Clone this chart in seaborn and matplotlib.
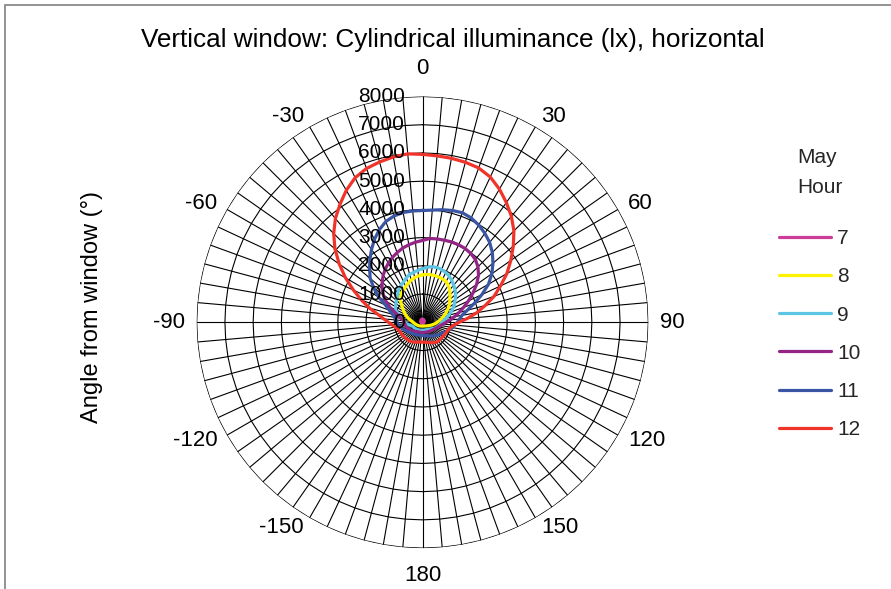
import numpy as np
import pandas as pd
import matplotlib
matplotlib.use("Agg")
import matplotlib.pyplot as plt
import seaborn as sns
from matplotlib.transforms import offset_copy
from matplotlib.patches import Rectangle

# ---- categories (angle from window, degrees) ----
angles = list(range(0, 181, 5)) + list(range(-175, 0, 5))
tick_labels = [str(a) if a % 30 == 0 else "" for a in angles]

hours = ["7", "8", "9", "10", "11", "12"]

# ---- series values (lx), order follows `angles` ----
h7 = [110, 110, 108, 106, 104, 100, 96, 92, 88, 84,
      80, 76, 72, 68, 64, 60, 57, 54, 52, 50,
      48, 46, 45, 44, 43, 42, 42, 41, 41, 40,
      40, 40, 40, 40, 40, 40, 40,
      40, 40, 40, 40, 40, 40, 41, 41, 42, 42,
      43, 44, 45, 46, 48, 50, 52, 54, 57, 60,
      64, 68, 72, 76, 80, 84, 88, 92, 96, 100,
      103, 106, 108, 109, 110]

h8 = [1680, 1700, 1710, 1710, 1705, 1690, 1670, 1600, 1500, 1380,
      1270, 1170, 1070, 960, 860, 760, 670, 590, 520, 460,
      400, 350, 310, 270, 240, 215, 195, 180, 170, 160,
      150, 145, 140, 138, 136, 135, 135,
      135, 136, 138, 140, 145, 150, 157, 165, 175, 185,
      195, 205, 220, 235, 255, 275, 300, 330, 370, 430,
      510, 590, 670, 760, 860, 970, 1110, 1210, 1290, 1340,
      1400, 1480, 1550, 1610, 1650]

h9 = [1900, 1960, 2000, 2010, 1990, 1950, 1890, 1810, 1720, 1630,
      1530, 1420, 1310, 1200, 1080, 960, 850, 760, 690, 650,
      620, 580, 530, 480, 440, 400, 370, 345, 325, 310,
      300, 292, 288, 285, 283, 282, 282,
      283, 285, 288, 292, 298, 305, 312, 320, 328, 336,
      345, 355, 365, 390, 430, 490, 560, 630, 680, 740,
      830, 940, 1050, 1110, 1150, 1200, 1260, 1360, 1460, 1520,
      1580, 1680, 1760, 1800, 1850]

h10 = [2900, 2980, 3000, 3010, 3030, 3030, 3020, 2980, 2910, 2780,
       2590, 2340, 2060, 1800, 1550, 1340, 1150, 980, 840, 730,
       650, 590, 545, 510, 480, 455, 435, 420, 405, 395,
       385, 375, 370, 365, 362, 360, 360,
       360, 362, 364, 366, 370, 380, 395, 415, 440, 465,
       495, 525, 555, 580, 600, 615, 625, 640, 680, 760,
       880, 1050, 1280, 1500, 1700, 1870, 2020, 2170, 2300, 2420,
       2530, 2630, 2720, 2790, 2850]

h11 = [3960, 3990, 4050, 4100, 4130, 4080, 3980, 3850, 3700, 3500,
       3260, 3000, 2700, 2320, 1950, 1640, 1420, 1320, 1230, 1150,
       1080, 990, 910, 850, 790, 740, 700, 660, 620, 590,
       560, 530, 505, 490, 480, 475, 470,
       470, 470, 472, 476, 485, 495, 510, 525, 545, 570,
       600, 640, 680, 720, 770, 820, 870, 900, 950, 1000,
       1100, 1250, 1450, 1800, 2100, 2420, 2650, 2900, 3150, 3400,
       3620, 3800, 3900, 3950, 3960]

h12 = [5950, 5920, 5900, 5870, 5820, 5680, 5450, 5180, 4900, 4580,
       4200, 3820, 3450, 3050, 2700, 2300, 1950, 1600, 1300, 1120,
       1020, 960, 930, 910, 890, 880, 870, 870, 870, 860,
       830, 800, 770, 740, 720, 710, 700,
       700, 710, 730, 750, 770, 790, 800, 810, 820, 830,
       840, 850, 860, 880, 920, 980, 1080, 1200, 1380, 1600,
       1950, 2300, 2700, 3150, 3600, 4050, 4450, 4800, 5100, 5400,
       5650, 5800, 5880, 5950, 5990]

series = [h7, h8, h9, h10, h11, h12]
radial_levels = [0, 1000, 2000, 3000, 4000, 5000, 6000, 7000, 8000]

palette = {"7": "#CC3D9A", "8": "#FFF200", "9": "#5BC5E3",
           "10": "#942486", "11": "#3A55A4", "12": "#F0342A"}

# ---- style ----
sns.set_theme(style="white")
plt.rcParams["font.family"] = ["Liberation Sans", "DejaVu Sans"]
FS = 15
FS_TICK = 16

fig = plt.figure(figsize=(8.91, 5.89), dpi=100)
W, H = 891.0, 589.0
cx, cy, R = 422.5, 322.3, 225.8
ax = fig.add_axes([(cx - R) / W, (H - cy - R) / H, 2 * R / W, 2 * R / H],
                  projection="polar")
ax.set_theta_zero_location("N")
ax.set_theta_direction(-1)

n = len(angles)
theta = np.arange(n) * 2 * np.pi / n
theta_closed = np.append(theta, 2 * np.pi)

rows = []
for h, vals in zip(hours, series):
    for t, v in zip(theta_closed, list(vals) + [vals[0]]):
        rows.append((h, t, v))
df = pd.DataFrame(rows, columns=["Hour", "theta", "lux"])

# polygon grid (Excel radar style)
for lvl in radial_levels[1:]:
    ax.plot(theta_closed, [lvl] * (n + 1), color="black", lw=0.8, zorder=1)

sns.lineplot(data=df, x="theta", y="lux", hue="Hour", hue_order=hours,
             palette=palette, sort=False, estimator=None, lw=2.3,
             ax=ax, zorder=3)

rmax = radial_levels[-1]
ax.set_ylim(0, rmax)
ax.set_yticks([])
ax.set_xticks(theta)
ax.set_xticklabels([""] * n)
ax.xaxis.grid(True, color="black", lw=0.8)
ax.spines["polar"].set_visible(False)
ax.set_xlabel("")
ax.set_ylabel("")
ax.set_facecolor("white")

# category labels placed Excel-style (near edge toward the chart)
for t, lab in zip(theta, tick_labels):
    if not lab:
        continue
    s, c = np.sin(t), np.cos(t)
    ha = "left" if s > 0.1 else ("right" if s < -0.1 else "center")
    if abs(s) <= 0.1:
        va = "bottom" if c > 0 else "top"
        r_lab = rmax * 1.077
    else:
        va = "center"
        r_lab = rmax * 1.05
    ax.text(t, r_lab, lab, ha=ha, va=va, fontsize=FS_TICK, color="black",
            clip_on=False)

tr = offset_copy(ax.transData, fig=fig, x=-17.5, y=0, units="dots")
for lvl in radial_levels:
    ax.text(0, lvl, f"{lvl}", transform=tr, ha="right", va="center",
            fontsize=FS, color="black", zorder=5, clip_on=False)

# legend
handles, labels = ax.get_legend_handles_labels()
leg = ax.legend(handles, labels, title="May\nHour", loc="upper left",
                bbox_to_anchor=(779 / W, 1 - 148 / H),
                bbox_transform=fig.transFigure, frameon=False,
                fontsize=FS, title_fontsize=FS, handlelength=2.5,
                handletextpad=0.3, labelspacing=0.92, borderpad=0,
                borderaxespad=0)
leg.get_title().set_linespacing(1.75)
leg._legend_box.sep = 23

fig.text(453 / W, 1 - 40 / H,
         "Vertical window: Cylindrical illuminance (lx), horizontal",
         ha="center", va="center", fontsize=18.8, color="black")
fig.text(92 / W, 1 - 307 / H, "Angle from window (°)", rotation=90,
         ha="center", va="center", fontsize=17, color="black")

fig.add_artist(Rectangle((5 / W, -0.1), 1.5, 1 - 5 / H + 0.1,
                         transform=fig.transFigure, fill=False,
                         edgecolor="#808080", lw=1.2))

fig.savefig("out.png", dpi=100, facecolor="white")
